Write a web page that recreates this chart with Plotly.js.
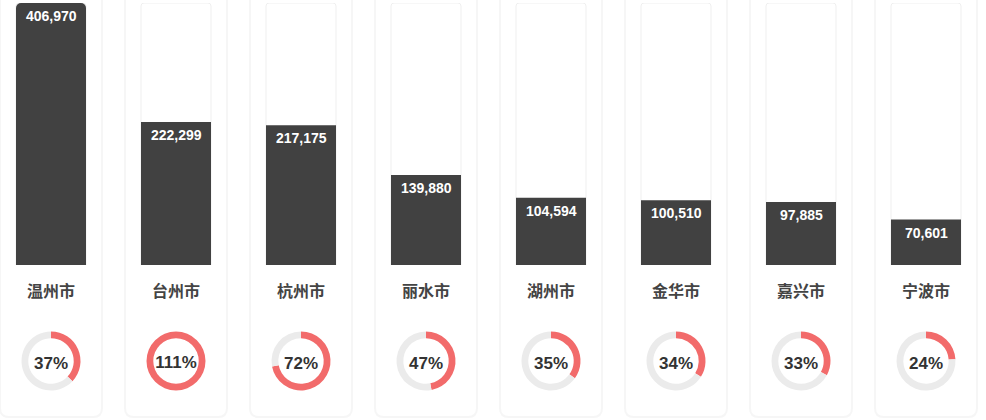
<!DOCTYPE html>
<html>
<head>
<meta charset="utf-8">
<script src="https://cdn.plot.ly/plotly-3.0.1.min.js"></script>
<style>
  html, body { margin: 0; padding: 0; background: #fff; }
  #chart { width: 986px; height: 420px; }
</style>
</head>
<body>
<div id="chart"></div>
<script>
// data
var cities = ['温州市', '台州市', '杭州市', '丽水市', '湖州市', '金华市', '嘉兴市', '宁波市'];
var values = [406970, 222299, 217175, 139880, 104594, 100510, 97885, 70601];
var pcts = [37, 111, 72, 47, 35, 34, 33, 24];

// page geometry (pixels)
var W = 986, H = 420;
var firstCenter = 51, step = 125;
var barTop = 3, barBottom = 265;
var ringCy = 361, ringR = 29.5;

var maxVal = Math.max.apply(null, values);
var idx = cities.map(function (c, i) { return i; });

var numFont = 'Liberation Sans, Arial, sans-serif';
var cjkFont = 'Noto Sans CJK SC, sans-serif';

var track = {
  type: 'bar',
  x: idx,
  y: values.map(function () { return maxVal; }),
  width: 0.56,
  marker: { color: '#ffffff', line: { color: '#efefef', width: 1 }, cornerradius: 3 },
  hoverinfo: 'skip',
  showlegend: false
};

var bars = {
  type: 'bar',
  x: idx,
  y: values,
  width: 0.56,
  marker: { color: '#414141', cornerradius: 5 },
  hovertemplate: '%{customdata}: %{y:,}<extra></extra>',
  customdata: cities,
  showlegend: false
};

var data = [track, bars];

// one ring per city
pcts.forEach(function (p, i) {
  var cx = firstCenter + step * i;
  var done = Math.min(p, 100);
  data.push({
    type: 'pie',
    values: [done, 100 - done],
    marker: { colors: ['#f26b6b', '#ebebeb'], line: { width: 0 } },
    hole: 0.77,
    sort: false,
    direction: 'clockwise',
    rotation: 0,
    textinfo: 'none',
    hoverinfo: 'skip',
    showlegend: false,
    domain: {
      x: [(cx - ringR) / W, (cx + ringR) / W],
      y: [(H - ringCy - ringR) / H, (H - ringCy + ringR) / H]
    },
    title: {
      text: p + '%',
      position: 'middle center',
      font: { family: numFont, size: 17, weight: 'bold', color: '#333333' }
    }
  });
});

// value labels at the top of each bar
var annotations = values.map(function (v, i) {
  return {
    x: i, y: v, xref: 'x', yref: 'y',
    text: v.toLocaleString('en-US'),
    showarrow: false,
    yanchor: 'top',
    yshift: -3,
    font: { family: numFont, size: 14, weight: 'bold', color: '#ffffff' }
  };
});

// faint cards behind each column
function cardPath(x0, x1, y0, y1, r) {
  // pixel coords -> paper coords
  function px(x) { return (x / W).toFixed(5); }
  function py(y) { return (1 - y / H).toFixed(5); }
  return 'M' + px(x0) + ',' + py(y0) +
    ' L' + px(x0) + ',' + py(y1 - r) +
    ' Q' + px(x0) + ',' + py(y1) + ' ' + px(x0 + r) + ',' + py(y1) +
    ' L' + px(x1 - r) + ',' + py(y1) +
    ' Q' + px(x1) + ',' + py(y1) + ' ' + px(x1) + ',' + py(y1 - r) +
    ' L' + px(x1) + ',' + py(y0) + ' Z';
}

var shapes = idx.map(function (i) {
  var cx = firstCenter + step * i;
  return {
    type: 'path', xref: 'paper', yref: 'paper', layer: 'below',
    path: cardPath(cx - 51, cx + 51, -10, 417, 9),
    fillcolor: '#ffffff',
    line: { color: '#f6f6f6', width: 2 }
  };
});

var layout = {
  width: W, height: H,
  margin: { l: 0, r: 0, t: 0, b: 0 },
  paper_bgcolor: '#ffffff',
  plot_bgcolor: 'rgba(0,0,0,0)',
  barmode: 'overlay',
  xaxis: {
    range: [-firstCenter / step, (W - firstCenter) / step],
    tickmode: 'array',
    tickvals: idx,
    ticktext: cities,
    ticks: '',
    ticklabelstandoff: 15,
    tickfont: { family: cjkFont, size: 16, weight: 'bold', color: '#444444' },
    showgrid: false, zeroline: false, showline: false,
    fixedrange: true
  },
  yaxis: {
    domain: [1 - barBottom / H, 1 - barTop / H],
    range: [0, maxVal],
    visible: false,
    fixedrange: true
  },
  annotations: annotations,
  shapes: shapes
};

Plotly.newPlot('chart', data, layout, { displayModeBar: false, staticPlot: true });
</script>
</body>
</html>
